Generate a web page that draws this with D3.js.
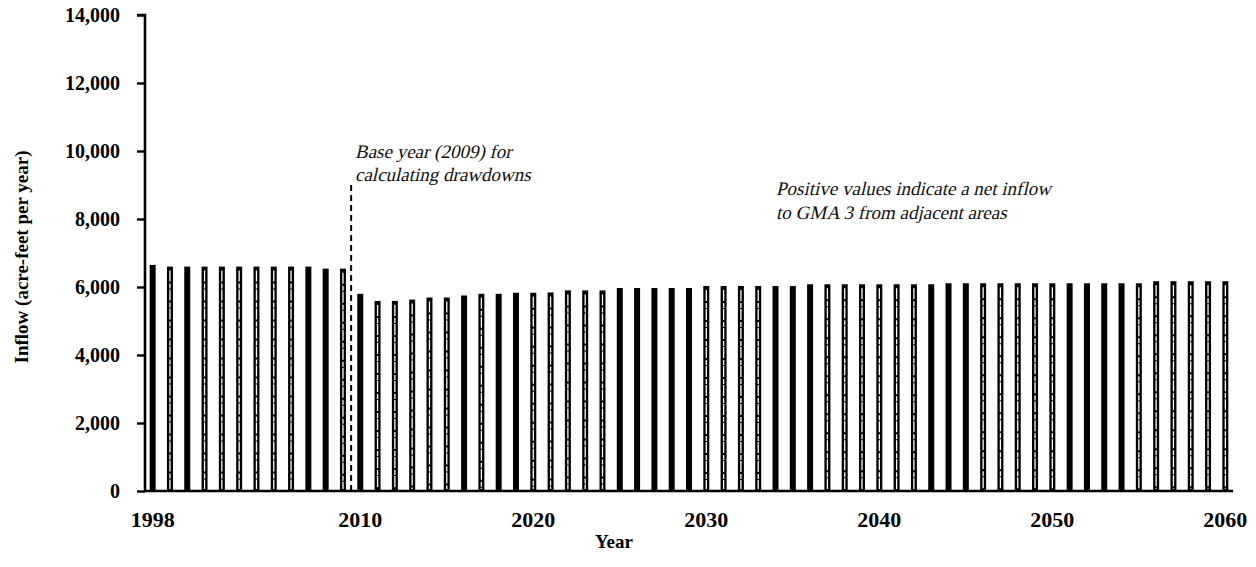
<!DOCTYPE html>
<html>
<head>
<meta charset="utf-8">
<script src="https://cdn.jsdelivr.net/npm/d3@7"></script>
<style>
  html, body { margin: 0; padding: 0; background: #fff; }
  svg { display: block; }
  .tick-label { font-family: "Liberation Serif", "DejaVu Serif", serif; font-weight: bold; font-size: 20px; fill: #000; }
  .x-label { font-size: 22px; }
  .axis-title { font-family: "Liberation Serif", "DejaVu Serif", serif; font-weight: bold; font-size: 19px; fill: #000; }
  .note { font-family: "Liberation Serif", serif; font-style: normal; font-size: 19px; fill: #111; }
</style>
</head>
<body>
<svg id="chart" width="1256" height="567"></svg>
<script>
// Annual net inflow to GMA 3, 1998–2060 (acre-feet per year)
const years = d3.range(1998, 2061);
const inflow = [
  6650,                                                  // 1998
  6600, 6600, 6600, 6600, 6600, 6600, 6600, 6600, 6600,  // 1999–2007
  6540, 6540,                                            // 2008–2009
  5800, 5590, 5590, 5630, 5690, 5690, 5750, 5800, 5800,  // 2010–2018
  5830, 5830, 5840, 5900, 5900, 5900,                    // 2019–2024
  5970, 5970, 5970, 5970, 5970,                          // 2025–2029
  6030, 6030, 6030, 6030, 6030, 6030,                    // 2030–2035
  6080, 6080, 6080, 6080, 6080, 6080, 6080, 6080,        // 2036–2043
  6110, 6110, 6110, 6110, 6110, 6110, 6110, 6110, 6110, 6110, 6110, 6110, // 2044–2055
  6170, 6170, 6170, 6170, 6170                           // 2056–2060
];
const yTicks = [0, 2000, 4000, 6000, 8000, 10000, 12000, 14000];
const xTickYears = [1998, 2010, 2020, 2030, 2040, 2050, 2060];
const baseYear = 2009;
const baseYearNote = ["Base year (2009) for", "calculating drawdowns"];
const inflowNote = ["Positive values indicate a net inflow", "to GMA 3 from adjacent areas"];

// Bars that print with a light core stripe (hatched fill)
const hatched = new Set([1999, 2001, 2002, 2003, 2004, 2005, 2006, 2009, 2011, 2012, 2013, 2014,
  2015, 2017, 2020, 2021, 2022, 2023, 2024, 2030, 2031, 2032, 2033, 2037, 2038, 2039, 2040,
  2041, 2042, 2046, 2047, 2048, 2049, 2050, 2055, 2056, 2057, 2058, 2059, 2060]);

const svg = d3.select("#chart");
const plot = { left: 145, right: 1233, top: 15, bottom: 491 };

const x = d3.scaleBand().domain(years).range([plot.left - 1, plot.right + 1]).padding(0);
const y = d3.scaleLinear().domain([0, 14000]).range([plot.bottom, plot.top]);
const barW = 6;
const cx = yr => x(yr) + x.bandwidth() / 2;

// Bars
const rows = years.map((yr, i) => ({ yr, v: inflow[i] }));
const bars = svg.append("g");
bars.selectAll("rect.bar")
  .data(rows)
  .join("rect")
  .attr("class", "bar")
  .attr("x", d => cx(d.yr) - barW / 2)
  .attr("y", d => y(d.v))
  .attr("width", barW)
  .attr("height", d => y(0) - y(d.v))
  .attr("fill", "#000");

bars.selectAll("line.core")
  .data(rows.filter(d => hatched.has(d.yr)))
  .join("line")
  .attr("class", "core")
  .attr("x1", d => cx(d.yr)).attr("x2", d => cx(d.yr))
  .attr("y1", d => y(d.v) + 4).attr("y2", y(0) - 2)
  .attr("stroke", "#fff")
  .attr("stroke-width", 1.3)
  .attr("stroke-dasharray", "11 2 5 1");

// Base-year marker between 2009 and 2010
const markX = (cx(baseYear) + cx(baseYear + 1)) / 2 - 0.5;
svg.append("line")
  .attr("x1", markX).attr("x2", markX)
  .attr("y1", 185).attr("y2", y(0))
  .attr("stroke", "#000")
  .attr("stroke-width", 2)
  .attr("stroke-dasharray", "6 4");

// Y axis
const yAxis = d3.axisLeft(y).tickValues(yTicks).tickSize(8).tickPadding(17)
  .tickFormat(d3.format(","));
const gy = svg.append("g").attr("transform", `translate(${plot.left},0)`).call(yAxis);
gy.select(".domain").attr("stroke", "#000").attr("stroke-width", 2.6)
  .attr("d", `M-8,${plot.top}H0V${plot.bottom}`);
gy.selectAll(".tick line").attr("stroke", "#000").attr("stroke-width", 2.4);
gy.selectAll(".tick text").attr("class", "tick-label").attr("dy", "0.34em");

// X axis
const xAxis = d3.axisBottom(x).tickValues(xTickYears).tickSize(0).tickPadding(20);
const gx = svg.append("g").attr("transform", `translate(0,${plot.bottom})`).call(xAxis);
gx.select(".domain").attr("stroke", "#000").attr("stroke-width", 2.6)
  .attr("d", `M${plot.left - 1},0H${plot.right}`);
gx.selectAll(".tick text").attr("class", "tick-label x-label").attr("dy", "0.71em");

// Axis titles
svg.append("text").attr("class", "axis-title")
  .attr("x", 614).attr("y", 548).attr("text-anchor", "middle").text("Year");
svg.append("text").attr("class", "axis-title")
  .attr("transform", "translate(28,257) rotate(-90)")
  .attr("text-anchor", "middle").text("Inflow (acre-feet per year)");

// Notes, set in a slanted serif
function note(lines, x0, y0, lead) {
  const g = svg.append("g").attr("transform", `translate(${x0},${y0}) skewX(-13)`);
  const t = g.append("text").attr("class", "note");
  lines.forEach((s, i) => t.append("tspan").attr("x", i * lead * Math.tan(13 * Math.PI / 180)).attr("y", i * lead).text(s));
}
note(baseYearNote, 355, 158, 23);
note(inflowNote, 776, 195, 24);
</script>
</body>
</html>
